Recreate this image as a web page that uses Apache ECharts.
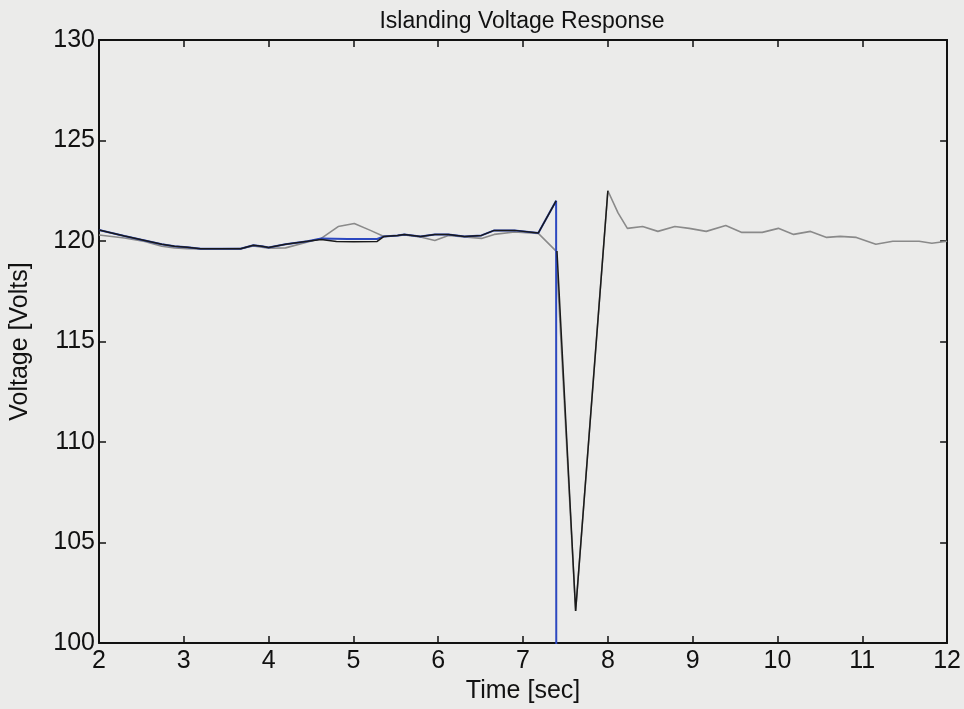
<!DOCTYPE html>
<html>
<head>
<meta charset="utf-8">
<script src="https://cdn.jsdelivr.net/npm/echarts@6/dist/echarts.min.js"></script>
<style>
  html, body { margin: 0; padding: 0; background: #ebebea; }
  #chart { width: 964px; height: 709px; }
</style>
</head>
<body>
<div id="chart"></div>
<script>
// Axis ranges and tick labels
const xTicks = [2, 3, 4, 5, 6, 7, 8, 9, 10, 11, 12];
const yTicks = [100, 105, 110, 115, 120, 125, 130];

// Inverter terminal voltage, trace 1 (dark) – [time s, volts]
const voltageA = [
  [2.0, 120.55], [2.3, 120.25], [2.54, 120.03], [2.74, 119.84], [2.89, 119.74],
  [3.04, 119.69], [3.2, 119.62], [3.67, 119.62], [3.82, 119.79], [3.92, 119.74],
  [4.0, 119.68], [4.2, 119.84], [4.46, 119.99], [4.62, 120.08], [4.8, 119.98],
  [5.0, 119.97], [5.28, 119.98], [5.36, 120.23], [5.52, 120.28], [5.6, 120.33],
  [5.79, 120.23], [5.96, 120.33], [6.12, 120.33], [6.31, 120.23], [6.51, 120.28],
  [6.66, 120.53], [6.9, 120.53], [7.18, 120.4], [7.39, 122.0],
  [7.395, null],
  [7.40, 119.5], [7.62, 101.6], [8.0, 122.5]
];

// Trace 2 (grey) – continues through the islanded period
const voltageB = [
  [2.0, 120.3], [2.3, 120.15], [2.54, 119.98], [2.74, 119.74], [2.89, 119.66],
  [3.04, 119.62], [3.2, 119.6], [3.67, 119.62], [3.82, 119.76], [4.0, 119.64],
  [4.2, 119.66], [4.46, 119.95], [4.62, 120.13], [4.82, 120.72], [5.01, 120.87],
  [5.2, 120.53], [5.36, 120.23], [5.52, 120.26], [5.6, 120.3], [5.79, 120.2],
  [5.96, 120.03], [6.12, 120.28], [6.31, 120.2], [6.51, 120.13], [6.66, 120.33],
  [6.9, 120.45], [7.18, 120.38], [7.39, 119.5], [7.62, 101.6], [8.0, 122.5],
  [8.12, 121.4], [8.23, 120.63], [8.41, 120.72], [8.59, 120.48], [8.79, 120.72],
  [8.96, 120.63], [9.16, 120.48], [9.39, 120.77], [9.58, 120.43], [9.82, 120.43],
  [10.01, 120.63], [10.19, 120.33], [10.39, 120.48], [10.58, 120.18], [10.74, 120.23],
  [10.93, 120.18], [11.16, 119.84], [11.36, 119.99], [11.67, 119.99], [11.82, 119.89],
  [12.0, 119.99]
];

// Grid-side voltage (blue) – collapses when the utility disconnects
const voltageGrid = [
  [2.0, 120.55], [2.3, 120.25], [2.54, 120.03], [2.74, 119.84], [2.89, 119.74],
  [3.04, 119.69], [3.2, 119.62], [3.67, 119.62], [3.82, 119.79], [3.92, 119.74],
  [4.0, 119.68], [4.2, 119.84], [4.46, 119.99], [4.62, 120.13], [4.93, 120.1],
  [5.28, 120.1], [5.36, 120.23], [5.52, 120.28], [5.6, 120.33], [5.79, 120.23],
  [5.96, 120.33], [6.12, 120.33], [6.31, 120.23], [6.51, 120.28], [6.66, 120.53],
  [6.9, 120.53], [7.18, 120.4], [7.39, 122.0], [7.40, 0]
];

const FONT = "'Liberation Sans', Arial, sans-serif";
const INK = '#111';

const chart = echarts.init(document.getElementById('chart'), null, { renderer: 'canvas' });

const frameAxis = {
  type: 'value',
  axisLine: { show: true, onZero: false, lineStyle: { color: INK, width: 2 } },
  axisTick: { show: true, inside: true, length: 7, lineStyle: { color: INK, width: 1.5 } },
  splitLine: { show: false }
};

chart.setOption({
  animation: false,
  backgroundColor: '#ebebea',
  title: {
    text: 'Islanding Voltage Response',
    left: 517, top: 5, textAlign: 'center',
    textStyle: { fontFamily: FONT, fontSize: 23, fontWeight: 'normal', color: INK }
  },
  grid: { left: 94, right: 14, top: 40, bottom: 61, containLabel: false },
  xAxis: [
    Object.assign({}, frameAxis, {
      position: 'bottom', min: xTicks[0], max: xTicks[xTicks.length - 1], interval: 1,
      name: 'Time [sec]', nameLocation: 'middle', nameGap: 28,
      nameTextStyle: { fontFamily: FONT, fontSize: 25, color: INK },
      axisLabel: { margin: 6, fontFamily: FONT, fontSize: 25, color: INK }
    }),
    Object.assign({}, frameAxis, {
      position: 'top', min: xTicks[0], max: xTicks[xTicks.length - 1], interval: 1,
      axisLabel: { show: false }
    })
  ],
  yAxis: [
    Object.assign({}, frameAxis, {
      position: 'left', min: yTicks[0], max: yTicks[yTicks.length - 1], interval: 5,
      name: 'Voltage [Volts]', nameLocation: 'middle', nameGap: 66, nameRotate: 90,
      nameTextStyle: { fontFamily: FONT, fontSize: 25, color: INK },
      axisLabel: { margin: 4, fontFamily: FONT, fontSize: 25, color: INK }
    }),
    Object.assign({}, frameAxis, {
      position: 'right', min: yTicks[0], max: yTicks[yTicks.length - 1], interval: 5,
      axisLabel: { show: false }
    })
  ],
  series: [
    {
      name: 'Trace B', type: 'line', data: voltageB, showSymbol: false, clip: true, z: 2,
      lineStyle: { color: '#8a8a8a', width: 1.6 }
    },
    {
      name: 'Grid', type: 'line', data: voltageGrid, showSymbol: false, clip: true, z: 3,
      lineStyle: { color: '#2c48c0', width: 2 }
    },
    {
      name: 'Trace A', type: 'line', data: voltageA, showSymbol: false, clip: true, z: 4,
      connectNulls: false,
      lineStyle: { color: '#1a1a1a', width: 1.5 }
    }
  ]
});
</script>
</body>
</html>
